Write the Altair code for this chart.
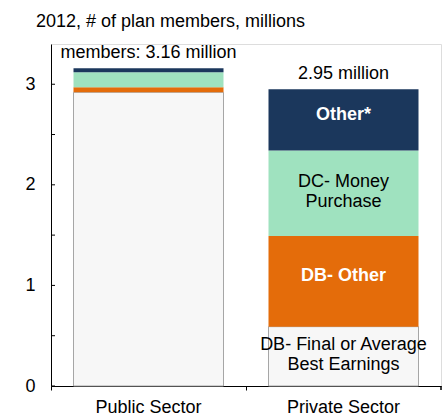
import altair as alt
import pandas as pd

sectors = ["Public Sector", "Private Sector"]
categories = ["DB- Final or Average\nBest Earnings", "DB- Other", "DC- Money\nPurchase", "Other*"]
public_values = [2.92, 0.05, 0.15, 0.04]
private_values = [0.59, 0.90, 0.85, 0.61]
totals = [3.16, 2.95]
total_labels = ["members: 3.16 million", "2.95 million"]
y_ticks = [0, 0.5, 1, 1.5, 2, 2.5, 3]
y_labels = [0, 1, 2, 3]
colors = ["#F7F7F7", "#E46C0A", "#9FE2BF", "#1B375C"]

FONT = "Liberation Sans"
FS = 18

rows = []
for s, vals in zip(sectors, [public_values, private_values]):
    for i, (c, v) in enumerate(zip(categories, vals)):
        rows.append({"sector": s, "category": c, "order": i, "value": v})
df = pd.DataFrame(rows)
df_tot = pd.DataFrame({"sector": sectors, "value": totals, "label": total_labels})
df_ticks = pd.DataFrame({"value": y_ticks})

yscale = alt.Scale(domain=[0, 3.4], nice=False, zero=True)
yaxis = alt.Axis(title=None, values=y_labels, ticks=False, labelFont=FONT, labelFontSize=FS,
                 labelColor="black", domainColor="black", labelPadding=16, grid=False)
xscale = alt.Scale(domain=sectors, paddingInner=0, paddingOuter=0)
xaxis = alt.Axis(title=None, labelAngle=0, bandPosition=0, tickSize=4, tickColor="black",
                 domainColor="black", labelFont=FONT, labelFontSize=FS, labelColor="black",
                 labelPadding=8, grid=False)


def X():
    return alt.X("sector:N", scale=xscale, axis=xaxis, sort=sectors)


def Y(field):
    return alt.Y(field, type="quantitative", scale=yscale, axis=yaxis)


bars = alt.Chart(df).mark_bar(size=150, strokeWidth=1).encode(
    x=X(),
    y=alt.Y("value:Q", stack="zero", scale=yscale, axis=yaxis),
    color=alt.Color("category:N", scale=alt.Scale(domain=categories, range=colors), legend=None),
    order=alt.Order("order:Q"),
    stroke=alt.condition("datum.order == 0", alt.value("#A6A6A6"), alt.value("transparent")),
)

stacked = alt.Chart(df).transform_stack(
    stack="value", groupby=["sector"], sort=[alt.SortField("order", order="ascending")], as_=["y0", "y1"]
).transform_calculate(mid="(datum.y0 + datum.y1) / 2").transform_filter(
    "datum.sector == 'Private Sector'"
)

labels_bold = stacked.transform_filter("datum.order == 1 || datum.order == 3").mark_text(
    font=FONT, fontSize=FS, fontWeight="bold", color="white", lineBreak="\n", dy=-5
).encode(x=X(), y=Y("mid"), text="category:N")

labels_plain = stacked.transform_filter("datum.order == 0 || datum.order == 2").mark_text(
    font=FONT, fontSize=FS, color="black", lineBreak="\n", lineHeight=20, dy=-11
).encode(x=X(), y=Y("mid"), text="category:N")

tot = alt.Chart(df_tot).mark_text(font=FONT, fontSize=FS, color="black", baseline="alphabetic", dy=-10).encode(
    x=X(), y=Y("value"), text="label:N"
)

ticks = alt.Chart(df_ticks).mark_rule(color="black").encode(
    y=Y("value"), x=alt.value(0), x2=alt.value(4)
)

end_tick = alt.Chart(df_tot).mark_rule(color="black").encode(
    x=alt.value(390), y=alt.value(342), y2=alt.value(346)
)

chart = alt.layer(bars, labels_bold, labels_plain, tot, ticks, end_tick).properties(
    width=390, height=342,
    title=alt.Title("2012, # of plan members, millions", anchor="start", dx=11, offset=13,
                    font=FONT, fontSize=FS, fontWeight="normal", color="black"),
    autosize=alt.AutoSizeParams(type="none"),
    padding={"left": 51, "top": 44, "right": 4, "bottom": 27},
).configure_view(stroke=None).configure(background="white")

chart.save("out.html", embed_options={"renderer": "svg", "actions": False})
